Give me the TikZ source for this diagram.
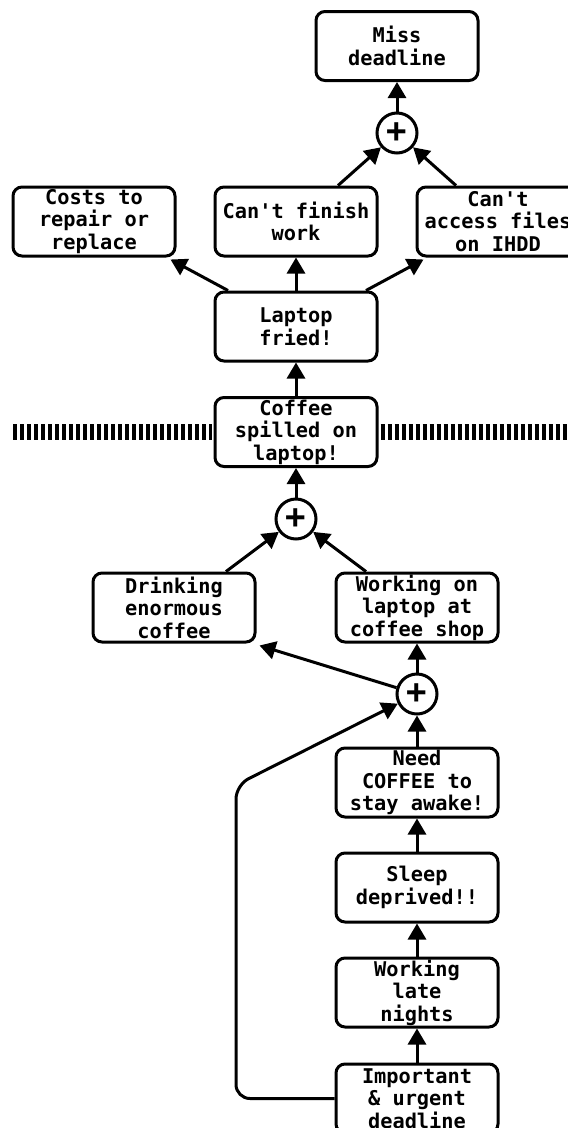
\documentclass[tikz,border=0pt]{standalone}
\usepackage{fontspec}
\setmonofont{DejaVu Sans Mono}
\usetikzlibrary{arrows.meta}
\begin{document}
\begin{tikzpicture}[x=1pt,y=-1pt,
  box/.style={draw,line width=3pt,rounded corners=9pt,fill=white,minimum width=162pt,minimum height=69pt,inner sep=0pt,align=center,font=\fontsize{20.3}{22.5}\selectfont\ttfamily\bfseries},
  plus/.style={draw,circle,line width=3pt,fill=white,minimum size=40pt,inner sep=0pt,font=\fontsize{34}{34}\selectfont\ttfamily\bfseries},
  arr/.style={line width=3pt,-{Triangle[length=16pt,width=18pt]}},
  hatch/.style={line width=16pt,dash pattern=on 4pt off 3pt}]
\useasboundingbox (0,0) rectangle (568,1128);
\node[box] (miss) at (397,46) {Miss\\deadline};
\node[plus] (p1) at (397,133) {+};
\node[box] (costs) at (94,221.5) {Costs to\\repair or\\replace};
\node[box] (cantfinish) at (296,221.5) {Can't finish\\work};
\node[box] (cantaccess) at (498,221.5) {Can't\\access files\\on IHDD};
\node[box] (fried) at (296,326.5) {Laptop\\fried!};
\node[box] (spilled) at (296,432) {Coffee\\spilled on\\laptop!};
\node[plus] (p2) at (296,519) {+};
\node[box] (drinking) at (174,607.5) {Drinking\\enormous\\coffee};
\node[box] (workshop) at (417,607.5) {Working on\\laptop at\\coffee shop};
\node[plus] (p3) at (417,694) {+};
\node[box] (needcoffee) at (417,782.5) {Need\\COFFEE to\\stay awake!};
\node[box] (sleep) at (417,887.5) {Sleep\\deprived!!};
\node[box] (late) at (417,992.5) {Working\\late\\nights};
\node[box] (important) at (417,1098.5) {Important\\\& urgent\\deadline};
\coordinate (hl) at (13,432);
\coordinate (hr) at (568,432);
\coordinate (bend) at (236,785);
\draw[hatch] (hl) -- ([xshift=-2pt]spilled.west);
\draw[hatch] ([xshift=2pt]spilled.east) -- (hr);
\draw[arr] (p1) -- (miss);
\draw[arr] ([xshift=42pt]cantfinish.north) -- (p1);
\draw[arr] ([xshift=-42pt]cantaccess.north) -- (p1);
\draw[arr] ([xshift=-68pt]fried.north) -- ([xshift=-6pt,yshift=-2pt]costs.south east);
\draw[arr] (fried) -- (cantfinish);
\draw[arr] ([xshift=70pt]fried.north) -- ([xshift=8pt,yshift=-2pt]cantaccess.south west);
\draw[arr] (spilled) -- (fried);
\draw[arr] (p2) -- (spilled);
\draw[arr] ([xshift=52pt]drinking.north) -- (p2);
\draw[arr] ([xshift=-51pt]workshop.north) -- (p2);
\draw[arr] (p3) -- (workshop);
\draw[arr] (p3) -- ([xshift=3pt,yshift=-2pt]drinking.south east);
\draw[arr] (needcoffee) -- (p3);
\draw[arr] (sleep) -- (needcoffee);
\draw[arr] (late) -- (sleep);
\draw[arr] (important) -- (late);
\draw[arr,rounded corners=14pt] (important.west) -| (bend) -- (p3);
\end{tikzpicture}
\end{document}
